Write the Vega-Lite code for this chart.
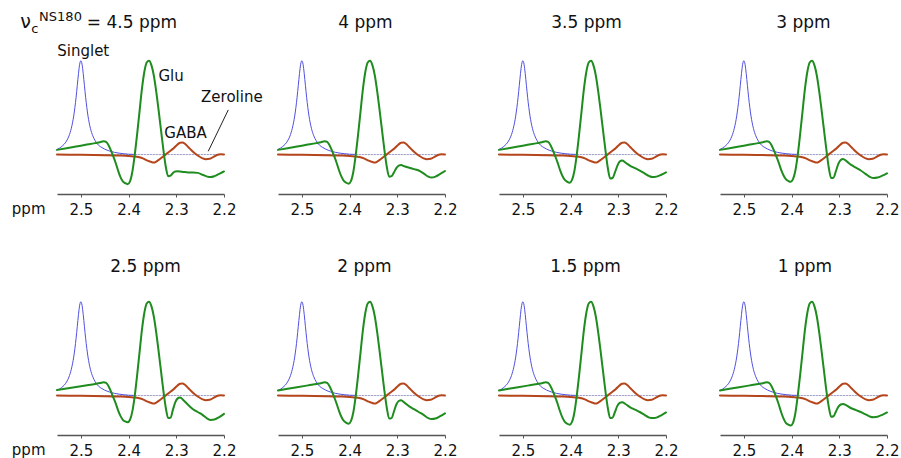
{
  "$schema": "https://vega.github.io/schema/vega-lite/v6.json",
  "background": "white",
  "padding": {"left": 11, "top": 10, "right": 0, "bottom": 0},
  "datasets": {
    "zero": [{"x": 2.55, "y": 0}, {"x": 2.2, "y": 0}],
    "singlet": [
      {"x": 2.55, "y": 0.055}, {"x": 2.54, "y": 0.086}, {"x": 2.53, "y": 0.145}, {"x": 2.525, "y": 0.197},
      {"x": 2.52, "y": 0.28}, {"x": 2.515, "y": 0.41}, {"x": 2.51, "y": 0.61}, {"x": 2.5075, "y": 0.735},
      {"x": 2.505, "y": 0.862}, {"x": 2.5025, "y": 0.962}, {"x": 2.5, "y": 1.0}, {"x": 2.4975, "y": 0.962},
      {"x": 2.495, "y": 0.862}, {"x": 2.4925, "y": 0.735}, {"x": 2.49, "y": 0.61}, {"x": 2.485, "y": 0.41},
      {"x": 2.48, "y": 0.28}, {"x": 2.475, "y": 0.2}, {"x": 2.47, "y": 0.148}, {"x": 2.463, "y": 0.1},
      {"x": 2.456, "y": 0.075}, {"x": 2.45, "y": 0.058}, {"x": 2.44, "y": 0.038}, {"x": 2.43, "y": 0.024},
      {"x": 2.42, "y": 0.015}, {"x": 2.41, "y": 0.009}, {"x": 2.4, "y": 0.004}, {"x": 2.39, "y": 0.002}
    ],
    "gaba": [
      {"x": 2.55, "y": 0}, {"x": 2.5, "y": -0.003}, {"x": 2.45, "y": -0.006}, {"x": 2.42, "y": -0.01},
      {"x": 2.4, "y": -0.015}, {"x": 2.39, "y": -0.02}, {"x": 2.38, "y": -0.025}, {"x": 2.37, "y": -0.04},
      {"x": 2.36, "y": -0.065}, {"x": 2.352, "y": -0.08}, {"x": 2.347, "y": -0.085}, {"x": 2.342, "y": -0.075},
      {"x": 2.335, "y": -0.05}, {"x": 2.325, "y": -0.01}, {"x": 2.315, "y": 0.03}, {"x": 2.305, "y": 0.07},
      {"x": 2.298, "y": 0.105}, {"x": 2.292, "y": 0.125}, {"x": 2.287, "y": 0.128}, {"x": 2.282, "y": 0.115},
      {"x": 2.275, "y": 0.08}, {"x": 2.265, "y": 0.03}, {"x": 2.255, "y": -0.01}, {"x": 2.245, "y": -0.04},
      {"x": 2.238, "y": -0.05}, {"x": 2.23, "y": -0.045}, {"x": 2.222, "y": -0.025}, {"x": 2.215, "y": -0.005},
      {"x": 2.207, "y": 0.003}, {"x": 2.2, "y": 0.002}
    ],
    "green": [
      {"x": 2.55, "g1": 0.05, "g2": 0.05, "g3": 0.05, "g4": 0.05, "g5": 0.06, "g6": 0.055, "g7": 0.055, "g8": 0.055},
      {"x": 2.53, "g1": 0.068, "g2": 0.068, "g3": 0.068, "g4": 0.068, "g5": 0.076, "g6": 0.072, "g7": 0.072, "g8": 0.072},
      {"x": 2.51, "g1": 0.086, "g2": 0.086, "g3": 0.086, "g4": 0.086, "g5": 0.092, "g6": 0.089, "g7": 0.089, "g8": 0.089},
      {"x": 2.49, "g1": 0.104, "g2": 0.104, "g3": 0.104, "g4": 0.104, "g5": 0.108, "g6": 0.106, "g7": 0.106, "g8": 0.106},
      {"x": 2.47, "g1": 0.122, "g2": 0.122, "g3": 0.122, "g4": 0.122, "g5": 0.124, "g6": 0.123, "g7": 0.123, "g8": 0.123},
      {"x": 2.46, "g1": 0.132, "g2": 0.132, "g3": 0.132, "g4": 0.132, "g5": 0.133, "g6": 0.132, "g7": 0.132, "g8": 0.132},
      {"x": 2.452, "g1": 0.142, "g2": 0.142, "g3": 0.142, "g4": 0.142, "g5": 0.142, "g6": 0.142, "g7": 0.142, "g8": 0.142},
      {"x": 2.447, "g1": 0.135, "g2": 0.135, "g3": 0.135, "g4": 0.135, "g5": 0.135, "g6": 0.135, "g7": 0.135, "g8": 0.135},
      {"x": 2.442, "g1": 0.1, "g2": 0.1, "g3": 0.1, "g4": 0.1, "g5": 0.1, "g6": 0.1, "g7": 0.1, "g8": 0.1},
      {"x": 2.437, "g1": 0.045, "g2": 0.045, "g3": 0.045, "g4": 0.045, "g5": 0.045, "g6": 0.045, "g7": 0.045, "g8": 0.045},
      {"x": 2.432, "g1": -0.02, "g2": -0.02, "g3": -0.02, "g4": -0.02, "g5": -0.02, "g6": -0.02, "g7": -0.02, "g8": -0.02},
      {"x": 2.427, "g1": -0.09, "g2": -0.09, "g3": -0.088, "g4": -0.085, "g5": -0.083, "g6": -0.088, "g7": -0.09, "g8": -0.093},
      {"x": 2.422, "g1": -0.17, "g2": -0.17, "g3": -0.165, "g4": -0.16, "g5": -0.157, "g6": -0.165, "g7": -0.17, "g8": -0.175},
      {"x": 2.417, "g1": -0.24, "g2": -0.235, "g3": -0.228, "g4": -0.22, "g5": -0.216, "g6": -0.228, "g7": -0.235, "g8": -0.243},
      {"x": 2.412, "g1": -0.285, "g2": -0.28, "g3": -0.27, "g4": -0.262, "g5": -0.258, "g6": -0.27, "g7": -0.28, "g8": -0.29},
      {"x": 2.407, "g1": -0.305, "g2": -0.3, "g3": -0.29, "g4": -0.28, "g5": -0.276, "g6": -0.29, "g7": -0.3, "g8": -0.31},
      {"x": 2.402, "g1": -0.315, "g2": -0.31, "g3": -0.3, "g4": -0.29, "g5": -0.285, "g6": -0.3, "g7": -0.31, "g8": -0.32},
      {"x": 2.397, "g1": -0.285, "g2": -0.28, "g3": -0.27, "g4": -0.262, "g5": -0.258, "g6": -0.27, "g7": -0.28, "g8": -0.29},
      {"x": 2.392, "g1": -0.18, "g2": -0.18, "g3": -0.175, "g4": -0.17, "g5": -0.166, "g6": -0.175, "g7": -0.18, "g8": -0.186},
      {"x": 2.387, "g1": 0, "g2": 0, "g3": 0, "g4": 0, "g5": 0, "g6": 0, "g7": 0, "g8": 0},
      {"x": 2.382, "g1": 0.22, "g2": 0.22, "g3": 0.22, "g4": 0.22, "g5": 0.22, "g6": 0.22, "g7": 0.22, "g8": 0.22},
      {"x": 2.377, "g1": 0.46, "g2": 0.46, "g3": 0.46, "g4": 0.46, "g5": 0.46, "g6": 0.46, "g7": 0.46, "g8": 0.46},
      {"x": 2.372, "g1": 0.7, "g2": 0.7, "g3": 0.7, "g4": 0.7, "g5": 0.7, "g6": 0.7, "g7": 0.7, "g8": 0.7},
      {"x": 2.367, "g1": 0.88, "g2": 0.88, "g3": 0.88, "g4": 0.88, "g5": 0.88, "g6": 0.88, "g7": 0.88, "g8": 0.88},
      {"x": 2.362, "g1": 0.98, "g2": 0.98, "g3": 0.98, "g4": 0.98, "g5": 0.98, "g6": 0.98, "g7": 0.98, "g8": 0.98},
      {"x": 2.357, "g1": 1.0, "g2": 1.0, "g3": 1.0, "g4": 1.0, "g5": 1.0, "g6": 1.0, "g7": 1.0, "g8": 1.0},
      {"x": 2.352, "g1": 0.95, "g2": 0.95, "g3": 0.95, "g4": 0.95, "g5": 0.95, "g6": 0.95, "g7": 0.95, "g8": 0.95},
      {"x": 2.347, "g1": 0.84, "g2": 0.84, "g3": 0.84, "g4": 0.84, "g5": 0.84, "g6": 0.84, "g7": 0.84, "g8": 0.84},
      {"x": 2.342, "g1": 0.67, "g2": 0.67, "g3": 0.67, "g4": 0.67, "g5": 0.67, "g6": 0.67, "g7": 0.67, "g8": 0.67},
      {"x": 2.337, "g1": 0.47, "g2": 0.47, "g3": 0.47, "g4": 0.47, "g5": 0.47, "g6": 0.47, "g7": 0.47, "g8": 0.47},
      {"x": 2.332, "g1": 0.26, "g2": 0.26, "g3": 0.26, "g4": 0.26, "g5": 0.26, "g6": 0.26, "g7": 0.26, "g8": 0.26},
      {"x": 2.327, "g1": 0.05, "g2": 0.05, "g3": 0.05, "g4": 0.05, "g5": 0.05, "g6": 0.05, "g7": 0.05, "g8": 0.05},
      {"x": 2.322, "g1": -0.13, "g2": -0.13, "g3": -0.14, "g4": -0.14, "g5": -0.13, "g6": -0.13, "g7": -0.13, "g8": -0.12},
      {"x": 2.317, "g1": -0.23, "g2": -0.235, "g3": -0.255, "g4": -0.25, "g5": -0.24, "g6": -0.245, "g7": -0.24, "g8": -0.225},
      {"x": 2.312, "g1": -0.225, "g2": -0.23, "g3": -0.25, "g4": -0.245, "g5": -0.235, "g6": -0.24, "g7": -0.235, "g8": -0.22},
      {"x": 2.307, "g1": -0.195, "g2": -0.19, "g3": -0.19, "g4": -0.175, "g5": -0.15, "g6": -0.17, "g7": -0.175, "g8": -0.17},
      {"x": 2.302, "g1": -0.18, "g2": -0.145, "g3": -0.12, "g4": -0.1, "g5": -0.07, "g6": -0.095, "g7": -0.11, "g8": -0.12},
      {"x": 2.297, "g1": -0.178, "g2": -0.118, "g3": -0.075, "g4": -0.058, "g5": -0.03, "g6": -0.058, "g7": -0.078, "g8": -0.095},
      {"x": 2.292, "g1": -0.18, "g2": -0.112, "g3": -0.064, "g4": -0.046, "g5": -0.02, "g6": -0.05, "g7": -0.07, "g8": -0.09},
      {"x": 2.285, "g1": -0.185, "g2": -0.125, "g3": -0.085, "g4": -0.07, "g5": -0.05, "g6": -0.075, "g7": -0.09, "g8": -0.105},
      {"x": 2.275, "g1": -0.19, "g2": -0.14, "g3": -0.12, "g4": -0.11, "g5": -0.1, "g6": -0.115, "g7": -0.125, "g8": -0.135},
      {"x": 2.265, "g1": -0.19, "g2": -0.155, "g3": -0.145, "g4": -0.14, "g5": -0.145, "g6": -0.145, "g7": -0.15, "g8": -0.155},
      {"x": 2.255, "g1": -0.195, "g2": -0.17, "g3": -0.17, "g4": -0.17, "g5": -0.175, "g6": -0.175, "g7": -0.175, "g8": -0.175},
      {"x": 2.245, "g1": -0.215, "g2": -0.2, "g3": -0.2, "g4": -0.205, "g5": -0.205, "g6": -0.205, "g7": -0.205, "g8": -0.2},
      {"x": 2.235, "g1": -0.235, "g2": -0.235, "g3": -0.23, "g4": -0.24, "g5": -0.245, "g6": -0.24, "g7": -0.235, "g8": -0.225},
      {"x": 2.228, "g1": -0.24, "g2": -0.245, "g3": -0.24, "g4": -0.25, "g5": -0.26, "g6": -0.25, "g7": -0.24, "g8": -0.23},
      {"x": 2.22, "g1": -0.23, "g2": -0.235, "g3": -0.235, "g4": -0.245, "g5": -0.255, "g6": -0.245, "g7": -0.235, "g8": -0.225},
      {"x": 2.21, "g1": -0.205, "g2": -0.205, "g3": -0.215, "g4": -0.225, "g5": -0.23, "g6": -0.22, "g7": -0.21, "g8": -0.205},
      {"x": 2.2, "g1": -0.18, "g2": -0.175, "g3": -0.19, "g4": -0.2, "g5": -0.195, "g6": -0.19, "g7": -0.18, "g8": -0.18}
    ]
  },
  "columns": 4,
  "spacing": {"row": 103, "column": 54},
  "bounds": "flush",
  "concat": [
    {
      "width": 167, "height": 138,
      "encoding": {
        "x": {"field": "x", "type": "quantitative", "scale": {"domain": [2.55, 2.2], "nice": false, "zero": false},
              "axis": {"values": [2.5, 2.4, 2.3, 2.2], "format": ".1f", "title": "ppm", "titleX": -12, "titleY": 19, "titleAlign": "right", "titleBaseline": "alphabetic", "titleAngle": 0, "titleAnchor": "start"}},
        "y": {"field": "y", "type": "quantitative", "scale": {"domain": [-0.42, 1.05], "nice": false, "zero": false}, "axis": null}
      },
      "layer": [
        {"data": {"name": "zero"}, "mark": {"type": "line", "color": "#9c9cc4", "strokeWidth": 1, "strokeDash": [1.5, 1.5]}},
        {"data": {"name": "singlet"}, "mark": {"type": "line", "color": "#5050e0", "strokeWidth": 1, "interpolate": "monotone"}},
        {"data": {"name": "gaba"}, "mark": {"type": "line", "color": "#b5451b", "strokeWidth": 2, "interpolate": "monotone"}},
        {"data": {"name": "green"}, "mark": {"type": "line", "color": "#1e8c1e", "strokeWidth": 2, "interpolate": "monotone"},
         "encoding": {"y": {"field": "g1", "type": "quantitative", "scale": {"domain": [-0.42, 1.05], "nice": false, "zero": false}, "axis": null}}},
        {"data": {"values": [{"x": 2.191, "y": 0.476, "x2": 2.233, "y2": 0.035}]}, "mark": {"type": "rule", "color": "#222222", "strokeWidth": 1},
         "encoding": {"x2": {"field": "x2"}, "y2": {"field": "y2"}}},
        {"data": {"values": [
          {"x": 2.495, "y": 1.053, "label": "Singlet"}
        ]}, "mark": {"type": "text", "fontSize": 15, "align": "center", "baseline": "alphabetic", "color": "#111111"},
         "encoding": {"text": {"field": "label"}}},
        {"data": {"values": [
          {"x": 2.3375, "y": 0.787, "label": "Glu"},
          {"x": 2.325, "y": 0.181, "label": "GABA"},
          {"x": 2.248, "y": 0.556, "label": "Zeroline"}
        ]}, "mark": {"type": "text", "fontSize": 15, "align": "left", "baseline": "alphabetic", "color": "#111111"},
         "encoding": {"text": {"field": "label"}}},
        {"data": {"values": [{"x": 2.627, "y": 1.351, "label": "ν"}]},
         "mark": {"type": "text", "fontSize": 19, "align": "left", "baseline": "alphabetic", "color": "#111111"},
         "encoding": {"text": {"field": "label"}}},
        {"data": {"values": [{"x": 2.604, "y": 1.298, "label": "c"}, {"x": 2.5875, "y": 1.426, "label": "NS180"}]},
         "mark": {"type": "text", "fontSize": 13, "align": "left", "baseline": "alphabetic", "color": "#111111"},
         "encoding": {"text": {"field": "label"}}},
        {"data": {"values": [{"x": 2.4875, "y": 1.351, "label": "= 4.5 ppm"}]},
         "mark": {"type": "text", "fontSize": 17, "align": "left", "baseline": "alphabetic", "color": "#111111"},
         "encoding": {"text": {"field": "label"}}}
      ]
    },
    {
      "width": 167, "height": 138,
      "title": {"text": "4 ppm", "offset": 24, "dx": 4},
      "encoding": {
        "x": {"field": "x", "type": "quantitative", "scale": {"domain": [2.55, 2.2], "nice": false, "zero": false},
              "axis": {"values": [2.5, 2.4, 2.3, 2.2], "format": ".1f", "title": null}},
        "y": {"field": "y", "type": "quantitative", "scale": {"domain": [-0.42, 1.05], "nice": false, "zero": false}, "axis": null}
      },
      "layer": [
        {"data": {"name": "zero"}, "mark": {"type": "line", "color": "#9c9cc4", "strokeWidth": 1, "strokeDash": [1.5, 1.5]}},
        {"data": {"name": "singlet"}, "mark": {"type": "line", "color": "#5050e0", "strokeWidth": 1, "interpolate": "monotone"}},
        {"data": {"name": "gaba"}, "mark": {"type": "line", "color": "#b5451b", "strokeWidth": 2, "interpolate": "monotone"}},
        {"data": {"name": "green"}, "mark": {"type": "line", "color": "#1e8c1e", "strokeWidth": 2, "interpolate": "monotone"},
         "encoding": {"y": {"field": "g2", "type": "quantitative", "scale": {"domain": [-0.42, 1.05], "nice": false, "zero": false}, "axis": null}}}
      ]
    },
    {
      "width": 167, "height": 138,
      "title": {"text": "3.5 ppm", "offset": 24, "dx": 4},
      "encoding": {
        "x": {"field": "x", "type": "quantitative", "scale": {"domain": [2.55, 2.2], "nice": false, "zero": false},
              "axis": {"values": [2.5, 2.4, 2.3, 2.2], "format": ".1f", "title": null}},
        "y": {"field": "y", "type": "quantitative", "scale": {"domain": [-0.42, 1.05], "nice": false, "zero": false}, "axis": null}
      },
      "layer": [
        {"data": {"name": "zero"}, "mark": {"type": "line", "color": "#9c9cc4", "strokeWidth": 1, "strokeDash": [1.5, 1.5]}},
        {"data": {"name": "singlet"}, "mark": {"type": "line", "color": "#5050e0", "strokeWidth": 1, "interpolate": "monotone"}},
        {"data": {"name": "gaba"}, "mark": {"type": "line", "color": "#b5451b", "strokeWidth": 2, "interpolate": "monotone"}},
        {"data": {"name": "green"}, "mark": {"type": "line", "color": "#1e8c1e", "strokeWidth": 2, "interpolate": "monotone"},
         "encoding": {"y": {"field": "g3", "type": "quantitative", "scale": {"domain": [-0.42, 1.05], "nice": false, "zero": false}, "axis": null}}}
      ]
    },
    {
      "width": 167, "height": 138,
      "title": {"text": "3 ppm", "offset": 24, "dx": 0},
      "encoding": {
        "x": {"field": "x", "type": "quantitative", "scale": {"domain": [2.55, 2.2], "nice": false, "zero": false},
              "axis": {"values": [2.5, 2.4, 2.3, 2.2], "format": ".1f", "title": null}},
        "y": {"field": "y", "type": "quantitative", "scale": {"domain": [-0.42, 1.05], "nice": false, "zero": false}, "axis": null}
      },
      "layer": [
        {"data": {"name": "zero"}, "mark": {"type": "line", "color": "#9c9cc4", "strokeWidth": 1, "strokeDash": [1.5, 1.5]}},
        {"data": {"name": "singlet"}, "mark": {"type": "line", "color": "#5050e0", "strokeWidth": 1, "interpolate": "monotone"}},
        {"data": {"name": "gaba"}, "mark": {"type": "line", "color": "#b5451b", "strokeWidth": 2, "interpolate": "monotone"}},
        {"data": {"name": "green"}, "mark": {"type": "line", "color": "#1e8c1e", "strokeWidth": 2, "interpolate": "monotone"},
         "encoding": {"y": {"field": "g4", "type": "quantitative", "scale": {"domain": [-0.42, 1.05], "nice": false, "zero": false}, "axis": null}}}
      ]
    },
    {
      "width": 167, "height": 138,
      "title": {"text": "2.5 ppm", "offset": 21, "dx": 5},
      "encoding": {
        "x": {"field": "x", "type": "quantitative", "scale": {"domain": [2.55, 2.2], "nice": false, "zero": false},
              "axis": {"values": [2.5, 2.4, 2.3, 2.2], "format": ".1f", "title": "ppm", "titleX": -12, "titleY": 19, "titleAlign": "right", "titleBaseline": "alphabetic", "titleAngle": 0, "titleAnchor": "start"}},
        "y": {"field": "y", "type": "quantitative", "scale": {"domain": [-0.42, 1.05], "nice": false, "zero": false}, "axis": null}
      },
      "layer": [
        {"data": {"name": "zero"}, "mark": {"type": "line", "color": "#9c9cc4", "strokeWidth": 1, "strokeDash": [1.5, 1.5]}},
        {"data": {"name": "singlet"}, "mark": {"type": "line", "color": "#5050e0", "strokeWidth": 1, "interpolate": "monotone"}},
        {"data": {"name": "gaba"}, "mark": {"type": "line", "color": "#b5451b", "strokeWidth": 2, "interpolate": "monotone"}},
        {"data": {"name": "green"}, "mark": {"type": "line", "color": "#1e8c1e", "strokeWidth": 2, "interpolate": "monotone"},
         "encoding": {"y": {"field": "g5", "type": "quantitative", "scale": {"domain": [-0.42, 1.05], "nice": false, "zero": false}, "axis": null}}}
      ]
    },
    {
      "width": 167, "height": 138,
      "title": {"text": "2 ppm", "offset": 21, "dx": 3},
      "encoding": {
        "x": {"field": "x", "type": "quantitative", "scale": {"domain": [2.55, 2.2], "nice": false, "zero": false},
              "axis": {"values": [2.5, 2.4, 2.3, 2.2], "format": ".1f", "title": null}},
        "y": {"field": "y", "type": "quantitative", "scale": {"domain": [-0.42, 1.05], "nice": false, "zero": false}, "axis": null}
      },
      "layer": [
        {"data": {"name": "zero"}, "mark": {"type": "line", "color": "#9c9cc4", "strokeWidth": 1, "strokeDash": [1.5, 1.5]}},
        {"data": {"name": "singlet"}, "mark": {"type": "line", "color": "#5050e0", "strokeWidth": 1, "interpolate": "monotone"}},
        {"data": {"name": "gaba"}, "mark": {"type": "line", "color": "#b5451b", "strokeWidth": 2, "interpolate": "monotone"}},
        {"data": {"name": "green"}, "mark": {"type": "line", "color": "#1e8c1e", "strokeWidth": 2, "interpolate": "monotone"},
         "encoding": {"y": {"field": "g6", "type": "quantitative", "scale": {"domain": [-0.42, 1.05], "nice": false, "zero": false}, "axis": null}}}
      ]
    },
    {
      "width": 167, "height": 138,
      "title": {"text": "1.5 ppm", "offset": 21, "dx": 3},
      "encoding": {
        "x": {"field": "x", "type": "quantitative", "scale": {"domain": [2.55, 2.2], "nice": false, "zero": false},
              "axis": {"values": [2.5, 2.4, 2.3, 2.2], "format": ".1f", "title": null}},
        "y": {"field": "y", "type": "quantitative", "scale": {"domain": [-0.42, 1.05], "nice": false, "zero": false}, "axis": null}
      },
      "layer": [
        {"data": {"name": "zero"}, "mark": {"type": "line", "color": "#9c9cc4", "strokeWidth": 1, "strokeDash": [1.5, 1.5]}},
        {"data": {"name": "singlet"}, "mark": {"type": "line", "color": "#5050e0", "strokeWidth": 1, "interpolate": "monotone"}},
        {"data": {"name": "gaba"}, "mark": {"type": "line", "color": "#b5451b", "strokeWidth": 2, "interpolate": "monotone"}},
        {"data": {"name": "green"}, "mark": {"type": "line", "color": "#1e8c1e", "strokeWidth": 2, "interpolate": "monotone"},
         "encoding": {"y": {"field": "g7", "type": "quantitative", "scale": {"domain": [-0.42, 1.05], "nice": false, "zero": false}, "axis": null}}}
      ]
    },
    {
      "width": 167, "height": 138,
      "title": {"text": "1 ppm", "offset": 21, "dx": 1.5},
      "encoding": {
        "x": {"field": "x", "type": "quantitative", "scale": {"domain": [2.55, 2.2], "nice": false, "zero": false},
              "axis": {"values": [2.5, 2.4, 2.3, 2.2], "format": ".1f", "title": null}},
        "y": {"field": "y", "type": "quantitative", "scale": {"domain": [-0.42, 1.05], "nice": false, "zero": false}, "axis": null}
      },
      "layer": [
        {"data": {"name": "zero"}, "mark": {"type": "line", "color": "#9c9cc4", "strokeWidth": 1, "strokeDash": [1.5, 1.5]}},
        {"data": {"name": "singlet"}, "mark": {"type": "line", "color": "#5050e0", "strokeWidth": 1, "interpolate": "monotone"}},
        {"data": {"name": "gaba"}, "mark": {"type": "line", "color": "#b5451b", "strokeWidth": 2, "interpolate": "monotone"}},
        {"data": {"name": "green"}, "mark": {"type": "line", "color": "#1e8c1e", "strokeWidth": 2, "interpolate": "monotone"},
         "encoding": {"y": {"field": "g8", "type": "quantitative", "scale": {"domain": [-0.42, 1.05], "nice": false, "zero": false}, "axis": null}}}
      ]
    }
  ],
  "config": {
    "view": {"stroke": null},
    "font": "DejaVu Sans",
    "axisX": {"domainColor": "#555555", "domainWidth": 1.5, "tickColor": "#555555", "tickWidth": 1, "tickSize": 3,
              "labelFontSize": 15, "labelColor": "#111111", "labelPadding": 5, "grid": false, "labelFont": "DejaVu Sans",
              "titleFont": "DejaVu Sans", "titleFontSize": 15, "titleFontWeight": "normal", "titleColor": "#111111", "labelFlush": false, "labelOverlap": false},
    "title": {"font": "DejaVu Sans", "fontSize": 17, "fontWeight": "normal", "color": "#111111", "baseline": "alphabetic", "anchor": "middle"},
    "text": {"font": "DejaVu Sans"},
    "line": {"strokeCap": "round", "strokeJoin": "round"}
  }
}
